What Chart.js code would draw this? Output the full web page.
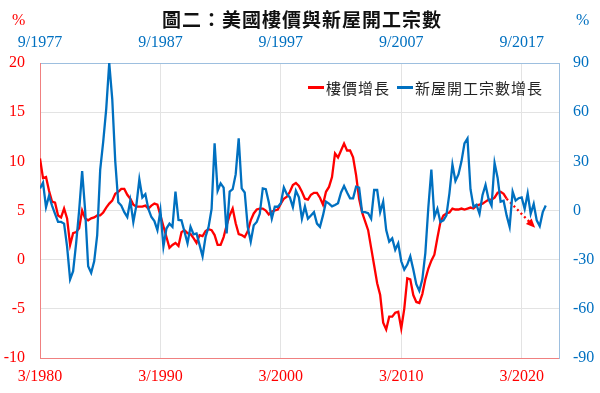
<!DOCTYPE html>
<html>
<head>
<meta charset="utf-8">
<script src="https://cdn.jsdelivr.net/npm/chart.js@4.4.1/dist/chart.umd.min.js"></script>
<style>
html, body { margin: 0; padding: 0; background: #fff; }
#wrap { position: relative; width: 600px; height: 393px; overflow: hidden; }
#chart { position: absolute; left: 0; top: 0; }
.title { position: absolute; left: 2px; width: 600px; top: 5px; text-align: center; font: bold 19px "Noto Sans CJK TC"; letter-spacing: 1px; color: #111; }
.pct { position: absolute; top: 11px; font: 16px "Liberation Serif"; }
.leg { position: absolute; top: 77px; font: 15px "Noto Sans CJK TC"; letter-spacing: 1px; color: #222; white-space: nowrap; }
.seg { position: absolute; top: 86px; height: 2.5px; width: 16px; }
</style>
</head>
<body>
<div id="wrap">
  <canvas id="chart" width="600" height="393"></canvas>
  <div class="title">圖二：美國樓價與新屋開工宗數</div>
  <div class="pct" style="left:12px;color:#ff0000">%</div>
  <div class="pct" style="left:576px;color:#0070c0">%</div>
  <div class="seg" style="left:308px;background:#ff0000"></div>
  <div class="leg" style="left:326px">樓價增長</div>
  <div class="seg" style="left:397px;background:#0070c0"></div>
  <div class="leg" style="left:415px">新屋開工宗數增長</div>
</div>
<script>
// 樓價增長 (%), quarterly from 3/1980
const priceStart = 1980.0;
const priceGrowth = [
  10.3, 8.3, 8.4, 7.0, 5.9, 5.8, 4.5, 4.3, 5.2, 4.2,
  1.5, 2.7, 2.8, 3.2, 5.0, 4.2, 4.0, 4.2, 4.3, 4.5,
  4.5, 4.8, 5.3, 5.7, 6.0, 6.7, 6.9, 7.2, 7.2, 6.6,
  6.2, 5.6, 5.4, 5.4, 5.4, 5.5, 5.2, 5.5, 5.7, 5.6,
  4.5, 3.4, 2.3, 1.2, 1.5, 1.7, 1.4, 2.8, 3.0, 2.7,
  2.6, 2.2, 1.7, 2.5, 2.4, 2.9, 3.1, 3.0, 2.5, 1.5,
  1.5, 2.3, 3.5, 4.5, 5.2, 3.7, 2.6, 2.5, 2.3, 2.9,
  4.0, 4.7, 5.1, 5.2, 5.2, 5.0, 4.6, 4.9, 5.0, 5.1,
  5.7, 6.2, 6.4, 6.9, 7.6, 7.8, 7.5, 6.9, 6.2, 6.1,
  6.6, 6.8, 6.8, 6.3, 5.6, 6.9, 7.4, 8.4, 10.8, 10.4,
  11.1, 11.8, 11.1, 11.1, 10.4, 8.6, 6.2, 4.8, 3.9, 3.0,
  1.2, -0.6, -2.4, -3.6, -6.4, -7.1, -5.8, -5.8, -5.4, -5.3,
  -7.0, -5.0, -1.9, -2.0, -3.6, -4.3, -4.4, -3.5, -2.0, -0.9,
  -0.1, 0.5, 2.2, 3.8, 4.5, 4.7, 4.8, 5.2, 5.1, 5.1,
  5.2, 5.1, 5.2, 5.3, 5.2, 5.5, 5.6, 5.7, 5.9, 6.1,
  6.1, 6.3, 6.8, 6.9, 6.7, 6.2
];
// dotted forecast (quarter index from 3/1980, value)
const forecastQuarter = [155, 164];
const forecastValue = [6.2, 3.4];

// 新屋開工宗數增長 (%), quarterly from 9/1977
const startsStart = 1977.5;
const startsGrowth = [
  13.5, 17, 2, 9, 3, -2, -7, -7, -8, -22,
  -42, -37, -20, 0, 24, 0, -34, -38, -31, -15,
  25, 42, 62, 90, 68, 30, 5, 3, -1, -4,
  6, -7, 3, 19, 8, 10, 1, -4, -6.5, -12,
  0, -22, -11, -8, -10, 11.5, -5.8, -6, -13, -20,
  -10, -14.5, -14, -21, -28, -16, -10, 1, 41, 12,
  16.6, 14, -14, 11.5, 13, 22, 44, 13.5, 11, -10,
  -19, -9, -7, -2, 13.5, 13, 5, -5, 2.3, 2.3,
  4.5, 14, 10, 8, 2, 12, 8, -5, 2.5, -5,
  -3, -1, -8, -10, -3, 5.4, 4.2, 2.5, 3.4, 4.5,
  11, 15, 11, 7.4, 7.4, 14.5, 14, -1, -1, -1.7,
  -5, 12.5, 12.5, -1, 5.4, -12, -19, -17, -24, -20,
  -31, -36, -33, -28, -36, -45, -49, -42, -26, 2,
  25, -4, 1, -7, -6, -3, 10.5, 28, 18, 22,
  30, 41, 44, 13, 2.3, 3.5, -2, 9.5, 15.6, 7,
  3, 29, 20, 5.4, 6, -3, -10, 11.5, 6, 7.5,
  8, 1, 10.5, -2, 4, -6, -9.5, -1, 3
];

const bottomTicks = [1980, 1990, 2000, 2010, 2020];
const topTicks = [1977.5, 1987.5, 1997.5, 2007.5, 2017.5];
const leftTicks = [-10, -5, 0, 5, 10, 15, 20];
const rightTicks = [-90, -60, -30, 0, 30, 60, 90];

const RED = '#ff0000';
const BLUE = '#0070c0';
const GRID = '#e3e3e3';
const numFont = { family: 'Liberation Serif', size: 16 };

const pricePts = priceGrowth.map((v, i) => ({ x: priceStart + i / 4, y: v }));
const startsPts = startsGrowth.map((v, i) => ({ x: startsStart + i / 4, y: v }));
const forecastPts = forecastQuarter.map((q, i) => ({ x: priceStart + q / 4, y: forecastValue[i] }));

const arrowPlugin = {
  id: 'arrowHead',
  afterDatasetsDraw(chart) {
    const pts = chart.getDatasetMeta(2).data;
    const a = pts[pts.length - 2], b = pts[pts.length - 1];
    const ang = Math.atan2(b.y - a.y, b.x - a.x);
    const ctx = chart.ctx;
    ctx.save();
    ctx.fillStyle = RED;
    ctx.translate(b.x, b.y);
    ctx.rotate(ang);
    ctx.beginPath();
    ctx.moveTo(2, 0);
    ctx.lineTo(-7, -4);
    ctx.lineTo(-7, 4);
    ctx.closePath();
    ctx.fill();
    ctx.restore();
  }
};

new Chart(document.getElementById('chart'), {
  type: 'line',
  data: {
    datasets: [{
      label: '新屋開工宗數增長',
      data: startsPts,
      xAxisID: 'x2',
      yAxisID: 'y2',
      borderColor: BLUE,
      borderWidth: 2.3,
      pointRadius: 0,
      tension: 0,
      order: 0
    }, {
      label: '樓價增長',
      data: pricePts,
      xAxisID: 'x',
      yAxisID: 'y',
      borderColor: RED,
      borderWidth: 2.3,
      pointRadius: 0,
      tension: 0,
      order: 1
    }, {
      label: 'forecast',
      data: forecastPts,
      xAxisID: 'x',
      yAxisID: 'y',
      borderColor: RED,
      borderWidth: 2.3,
      borderDash: [2, 3],
      pointRadius: 0,
      order: 1
    }]
  },
  options: {
    responsive: false,
    animation: false,
    events: [],
    layout: { padding: 0 },
    plugins: { legend: { display: false }, tooltip: { enabled: false } },
    scales: {
      x: {
        type: 'linear', position: 'bottom', min: 1980, max: 2023.1,
        afterBuildTicks: s => { s.ticks = bottomTicks.map(v => ({ value: v })); },
        afterFit: s => { s.height = 35; },
        ticks: { color: RED, font: numFont, padding: 9, maxRotation: 0, callback: v => '3/' + v },
        grid: { color: GRID, drawTicks: false },
        border: { color: '#f08080' }
      },
      x2: {
        type: 'linear', position: 'top', min: 1977.5, max: 2020.6,
        afterBuildTicks: s => { s.ticks = topTicks.map(v => ({ value: v })); },
        afterFit: s => { s.height = 63; },
        ticks: { color: BLUE, font: numFont, padding: 11, maxRotation: 0, callback: v => '9/' + Math.floor(v) },
        grid: { display: false, drawTicks: false },
        border: { color: '#9dbfdf' }
      },
      y: {
        position: 'left', min: -10, max: 20,
        afterBuildTicks: s => { s.ticks = leftTicks.map(v => ({ value: v })); },
        afterFit: s => { s.width = 40; },
        ticks: { color: RED, font: numFont, padding: 15 },
        grid: { color: GRID, drawTicks: false },
        border: { color: '#f08080' }
      },
      y2: {
        position: 'right', min: -90, max: 90,
        afterBuildTicks: s => { s.ticks = rightTicks.map(v => ({ value: v })); },
        afterFit: s => { s.width = 41; },
        ticks: { color: BLUE, font: numFont, padding: 14 },
        grid: { display: false, drawTicks: false },
        border: { color: '#9dbfdf' }
      }
    }
  },
  plugins: [arrowPlugin]
});
</script>
</body>
</html>
